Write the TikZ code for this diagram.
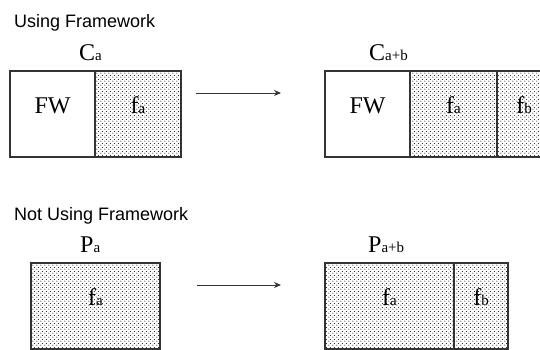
\documentclass[tikz,border=0pt]{standalone}
\usepackage{fontspec}
\setmainfont{Liberation Serif}
\newfontfamily\headfont{Liberation Sans}
\usetikzlibrary{arrows.meta, patterns, calc, positioning}
\definecolor{fwLine}{HTML}{333333}
\definecolor{fwDot}{HTML}{1A1A1A}
% staggered dot screen for the feature boxes
\pgfdeclarepatternformonly{fwdots}{\pgfpointorigin}{\pgfqpoint{4pt}{4pt}}{\pgfqpoint{4pt}{4pt}}{
  \pgfpathcircle{\pgfqpoint{1pt}{1pt}}{0.65pt}
  \pgfpathcircle{\pgfqpoint{3pt}{3pt}}{0.65pt}
  \pgfusepath{fill}
}
\newcommand{\boxfont}{\fontsize{24}{26}\selectfont}
\newcommand{\subfont}{\fontsize{15}{17}\selectfont}
\newcommand{\lab}[2]{#1{\subfont #2}}
\tikzset{
  headlbl/.style   = {font=\headfont\fontsize{18}{20}\selectfont, anchor=base west, inner sep=0pt},
  namelbl/.style   = {font=\boxfont, anchor=base west, inner sep=0pt},
  partbox/.style   = {draw=fwLine, line width=1.1pt, rectangle, outer sep=0pt, inner sep=0pt,
                      minimum height=86pt, font=\boxfont, text height=16pt, text depth=17pt},
  plainbox/.style  = {partbox, fill=white},
  dotbox/.style    = {partbox, pattern=fwdots, pattern color=fwDot},
  growarrow/.style = {-{Stealth[length=7pt, width=6pt]}, line width=1pt, fwLine},
}
\begin{document}
\begin{tikzpicture}[x=1pt, y=-1pt]
  \useasboundingbox (0,0) rectangle (540,349);
  % using framework
  \node[headlbl] (headA) at (14,27) {Using Framework};
  \node[namelbl] (nameCa) at (79,60) {\lab{C}{a}};
  \node[plainbox, minimum width=85pt, anchor=north west] (fwA) at (10,71) {FW};
  \node[dotbox, minimum width=86pt, right=0pt of fwA] (faA) {\lab{f}{a}};
  \node[namelbl] (nameCab) at (369,60) {\lab{C}{a+b}};
  \node[plainbox, minimum width=85pt, anchor=north west] (fwB) at (325,71) {FW};
  \node[dotbox, minimum width=87pt, right=0pt of fwB] (faB) {\lab{f}{a}};
  \node[dotbox, minimum width=54pt, right=0pt of faB] (fbB) {\lab{f}{b}};
  \coordinate (arrA-s) at ($(faA.north east)+(15,22)$);
  \coordinate (arrA-e) at ($(fwB.north west)+(-44,22)$);
  \draw[growarrow] (arrA-s) -- (arrA-e);
  % not using framework
  \node[headlbl] (headB) at (14,220) {Not Using Framework};
  \node[namelbl] (namePa) at (80,252) {\lab{P}{a}};
  \node[dotbox, minimum width=129pt, anchor=north west] (faC) at (31,263) {\lab{f}{a}};
  \node[namelbl] (namePab) at (368,252) {\lab{P}{a+b}};
  \node[dotbox, minimum width=129pt, anchor=north west] (faD) at (325,263) {\lab{f}{a}};
  \node[dotbox, minimum width=54pt, right=0pt of faD] (fbD) {\lab{f}{b}};
  \coordinate (arrB-s) at ($(faC.north east)+(37,22)$);
  \coordinate (arrB-e) at ($(faD.north west)+(-44,22)$);
  \draw[growarrow] (arrB-s) -- (arrB-e);
\end{tikzpicture}
\end{document}
